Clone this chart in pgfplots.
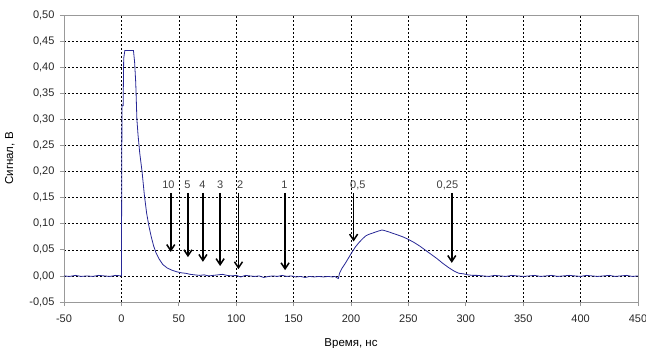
\documentclass[border=0pt]{standalone}
\usepackage{pgfplots}
\pgfplotsset{compat=1.18}
\usepackage{fontspec}
\setmainfont{Liberation Sans}
\usetikzlibrary{arrows.meta}
\definecolor{curve}{RGB}{40,40,150}
\begin{document}
\begin{tikzpicture}
\begin{axis}[
  scale only axis, width=574pt, height=287pt,
  xmin=-50, xmax=450, ymin=-0.05, ymax=0.5,
  xtick={-50,0,50,100,150,200,250,300,350,400,450},
  ytick={-0.05,0,0.05,0.1,0.15,0.2,0.25,0.3,0.35,0.4,0.45,0.5},
  axis line style={gray!80, line width=0.9pt},
  tick style={gray!80, line width=0.8pt},
  tick align=outside, major tick length=4pt,
  xtick pos=bottom, ytick pos=left,
  grid=major,
  major grid style={black, line width=0.5pt, dash pattern=on 2pt off 2pt},
  /pgf/number format/assume math mode=true,
  ticklabel style={font=\fontsize{11}{13}\selectfont, text=black!85},
  yticklabel style={xshift=-2pt, /pgf/number format/.cd, use comma, fixed, fixed zerofill, precision=2},
  xticklabel style={yshift=-5pt, /pgf/number format/.cd, use comma, fixed},
  label style={font=\fontsize{11.5}{13}\selectfont},
  xlabel={Время, нс}, ylabel={Сигнал, В},
  xlabel style={yshift=-9pt},
  ylabel style={yshift=8pt},
]
\addplot[curve, line width=0.8pt] coordinates {
(-50,0.000) (-45,-0.001) (-40,0.001) (-35,-0.001) (-30,0.000) (-25,-0.001)
(-20,0.001) (-15,0.000) (-10,-0.001) (-5,0.001) (0,0.000)
(0.5,0.326) (1.5,0.326) (2,0.417) (3,0.432) (10.5,0.432) (11.5,0.41)
(12.5,0.37) (13.5,0.30) (14.5,0.27) (16,0.235) (18,0.20) (20,0.155)
(22,0.12) (24,0.095) (26,0.075) (28,0.058) (30,0.045) (33,0.032)
(36,0.022) (40,0.015) (44,0.011) (48,0.008) (52,0.006) (56,0.005)
(60,0.003) (64,0.002) (68,0.001) (72,0.002) (76,0.000) (80,0.001)
(84,0.002) (88,0.003) (92,0.001) (96,0.000) (100,0.001) (104,-0.002)
(108,0.001) (112,0.000) (116,-0.001) (120,0.000) (124,-0.003) (128,-0.001)
(132,0.000) (136,-0.001) (140,0.001) (144,-0.001) (148,0.000) (152,-0.002)
(156,-0.001) (160,-0.003) (164,-0.001) (168,-0.002) (172,-0.001) (176,-0.002)
(180,-0.001) (184,-0.002) (186,-0.001) (188,-0.004) (189,-0.005) (190,0.005)
(192,0.014) (195,0.024) (198,0.035) (201,0.046) (204,0.056) (207,0.064)
(210,0.071) (213,0.077) (216,0.080) (220,0.083) (224,0.086) (227,0.088)
(229,0.087) (232,0.085) (236,0.082) (240,0.079) (245,0.075) (250,0.070)
(255,0.064) (260,0.057) (265,0.049) (270,0.041) (275,0.033) (280,0.024)
(285,0.016) (290,0.009) (294,0.005) (298,0.004) (302,0.002) (306,0.001)
(310,0.001) (315,0.000) (320,-0.001) (325,0.001) (330,0.000) (335,-0.001)
(340,0.001) (345,0.000) (350,-0.001) (355,0.000) (360,0.001) (365,-0.001)
(370,0.000) (375,0.001) (380,-0.001) (385,0.000) (390,0.001) (395,0.000)
(400,-0.001) (405,0.001) (410,0.000) (415,-0.001) (420,0.000) (425,0.001)
(430,-0.001) (435,0.000) (440,0.001) (445,-0.001) (450,0.000)
};
\begin{scope}[black, line width=1.5pt, -{Straight Barb[length=6pt,width=8pt]}]
\draw (axis cs:43,0.159) -- (axis cs:43,0.046);
\draw (axis cs:58,0.159) -- (axis cs:58,0.036);
\draw (axis cs:71,0.159) -- (axis cs:71,0.027);
\draw (axis cs:86,0.159) -- (axis cs:86,0.019);
\draw (axis cs:102,0.159) -- (axis cs:102,0.013);
\draw (axis cs:142.6,0.159) -- (axis cs:142.6,0.011);
\draw (axis cs:202.3,0.159) -- (axis cs:202.3,0.066);
\draw (axis cs:287.8,0.159) -- (axis cs:287.8,0.025);
\end{scope}
\begin{scope}[every node/.style={font=\fontsize{11}{13}\selectfont, text=black!75, inner sep=1pt}]
\node at (axis cs:41,0.174) {10};
\node at (axis cs:57.5,0.174) {5};
\node at (axis cs:70.5,0.174) {4};
\node at (axis cs:86,0.174) {3};
\node at (axis cs:103.5,0.174) {2};
\node at (axis cs:142,0.174) {1};
\node at (axis cs:206,0.174) {0,5};
\node at (axis cs:284,0.174) {0,25};
\end{scope}
\end{axis}
\pgfresetboundingbox
\path (-64pt,-46pt) rectangle (582pt,302pt);
\end{tikzpicture}
\end{document}
